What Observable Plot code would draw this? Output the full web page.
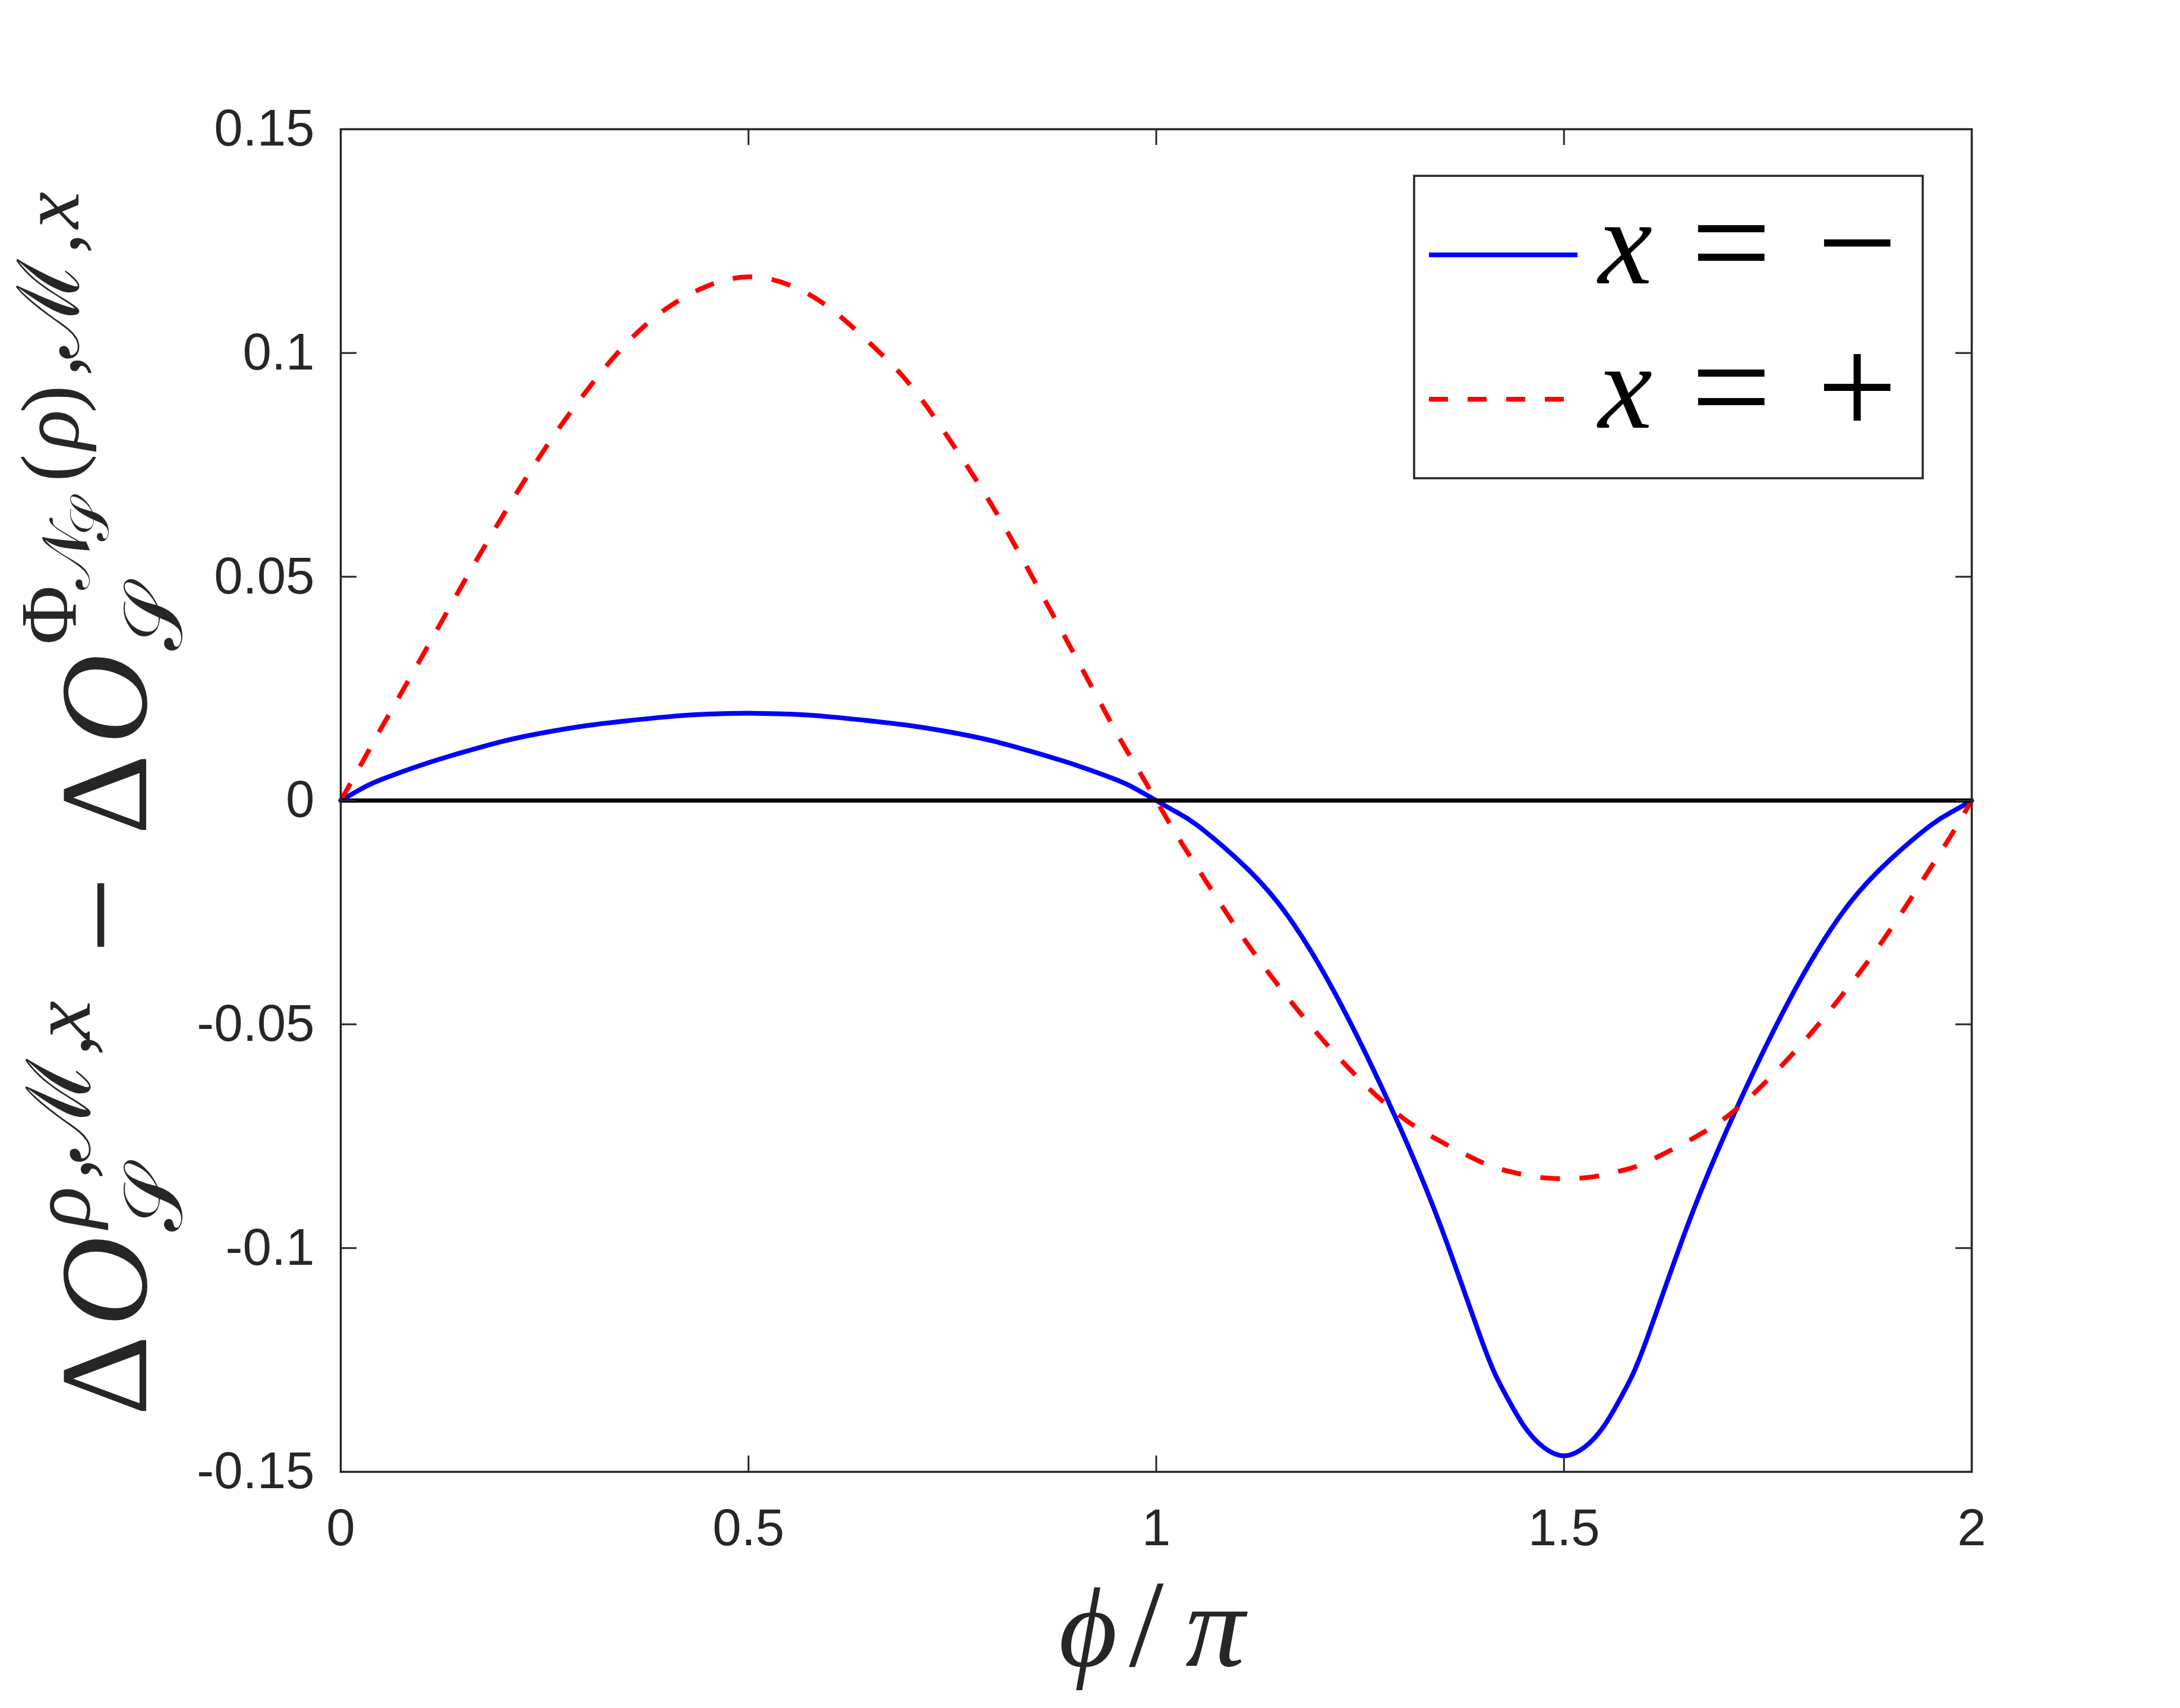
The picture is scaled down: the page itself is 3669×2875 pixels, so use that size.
<!DOCTYPE html>
<html>
<head>
<meta charset="utf-8">
<script src="https://cdn.jsdelivr.net/npm/d3@7"></script>
<script src="https://cdn.jsdelivr.net/npm/@observablehq/plot@0.6"></script>
<style>
html,body{margin:0;padding:0;background:#fff;overflow:hidden}
svg{display:block}
</style>
</head>
<body>
<div id="chart"></div>
<script>
// ---- data ----
const phi = [0,0.025,0.05,0.1,0.15,0.2,0.25,0.3,0.35,0.4,0.45,0.5,0.55,0.6,0.65,0.7,0.75,0.8,0.85,0.9,0.95,0.975,
             1,1.025,1.05,1.1,1.15,1.2,1.25,1.3,1.35,1.4,1.425,1.45,1.475,1.5,1.525,1.55,1.575,1.6,1.65,1.7,1.75,1.8,1.85,1.9,1.95,1.975,2];
const xMinus = [0,0.0026,0.0047,0.0080,0.0108,0.0133,0.0152,0.0167,0.0178,0.0187,0.0193,0.0195,0.0193,0.0187,0.0178,0.0167,0.0152,0.0133,0.0108,0.0080,0.0047,0.0026,
             0,-0.0026,-0.0055,-0.0132,-0.0230,-0.0368,-0.0540,-0.0735,-0.0957,-0.1211,-0.1316,-0.1395,-0.1445,-0.1464,-0.1445,-0.1395,-0.1316,-0.1211,-0.0957,-0.0735,-0.0540,-0.0368,-0.0230,-0.0132,-0.0055,-0.0026,0];
const xPlus = [0,0.0081,0.0163,0.0323,0.0485,0.0640,0.0785,0.0912,0.1021,0.1100,0.1150,0.1170,0.1152,0.1100,0.1020,0.0925,0.0797,0.0655,0.0493,0.0325,0.0156,0.0078,
             0,-0.0077,-0.0149,-0.0289,-0.0414,-0.0526,-0.0624,-0.0706,-0.0763,-0.0809,-0.0825,-0.0836,-0.0843,-0.0845,-0.0843,-0.0836,-0.0825,-0.0809,-0.0763,-0.0706,-0.0624,-0.0526,-0.0414,-0.0289,-0.0149,-0.0077,0];
const xTicks = [0,0.5,1,1.5,2];
const xTickLabels = ["0","0.5","1","1.5","2"];
const yTicks = [-0.15,-0.1,-0.05,0,0.05,0.1,0.15];
const yTickLabels = ["-0.15","-0.1","-0.05","0","0.05","0.1","0.15"];
const legendSigns = ["\u2212","+"];

// ---- layout ----
const W = 3669, H = 2875;
const mL = 573, mR = 351, mT = 217, mB = 398;
const innerW = W - mL - mR, innerH = H - mT - mB;
const axisColor = "#262626";
const tickLen = 27;

const svg = Plot.plot({
  width: W, height: H,
  marginLeft: mL, marginRight: mR, marginTop: mT, marginBottom: mB,
  style: {fontFamily: "'Liberation Sans', Arial, Helvetica, sans-serif", color: axisColor, background: "#fff"},
  x: {domain: [0, 2]},
  y: {domain: [-0.15, 0.15]},
  marks: [
    Plot.line(phi, {x: d => d, y: (d, i) => xMinus[i], stroke: "#0000ff", strokeWidth: 8, curve: "natural"}),
    Plot.line(phi, {x: d => d, y: (d, i) => xPlus[i], stroke: "#ff0000", strokeWidth: 8, strokeDasharray: "33,33", strokeLinecap: "butt", curve: "natural"}),
    Plot.ruleY([0], {stroke: "#000", strokeWidth: 7}),
    Plot.frame({stroke: axisColor, strokeWidth: 3.5}),
    Plot.tickX(xTicks, {x: d => d, insetTop: innerH - tickLen, stroke: axisColor, strokeWidth: 3}),
    Plot.tickX(xTicks, {x: d => d, insetBottom: innerH - tickLen, stroke: axisColor, strokeWidth: 3}),
    Plot.tickY(yTicks, {y: d => d, insetRight: innerW - tickLen, stroke: axisColor, strokeWidth: 3}),
    Plot.tickY(yTicks, {y: d => d, insetLeft: innerW - tickLen, stroke: axisColor, strokeWidth: 3}),
    Plot.axisX({ticks: xTicks, tickFormat: d => xTickLabels[xTicks.indexOf(d)], tickSize: 0, tickPadding: 62, fontSize: 87, label: null, anchor: "bottom"}),
    Plot.axisY({ticks: yTicks, tickFormat: d => yTickLabels[yTicks.indexOf(d)], tickSize: 0, tickPadding: 44, fontSize: 87, label: null, anchor: "left"})
  ]
});
document.getElementById("chart").appendChild(svg);

const s = d3.select(svg);
const serif = "'Liberation Serif', 'DejaVu Serif', serif";

// ---- legend ----
const lg = s.append("g").attr("text-anchor", "start");
lg.append("rect").attr("x", 2380).attr("y", 296).attr("width", 856).attr("height", 509)
  .attr("fill", "#fff").attr("stroke", axisColor).attr("stroke-width", 3.5);
lg.append("line").attr("x1", 2405).attr("x2", 2655).attr("y1", 429).attr("y2", 429)
  .attr("stroke", "#0000ff").attr("stroke-width", 8);
lg.append("line").attr("x1", 2405).attr("x2", 2632).attr("y1", 672).attr("y2", 672)
  .attr("stroke", "#ff0000").attr("stroke-width", 8).attr("stroke-dasharray", "32,33");
[477, 720].forEach((by, k) => {
  const t = lg.append("text").attr("y", by).attr("fill", "#000").attr("font-family", serif);
  t.append("tspan").attr("x", 2690).attr("font-style", "italic").attr("font-size", 205).text("x");
  t.append("tspan").attr("x", 2846).attr("y", by + 12).attr("font-size", 240).text("=");
  t.append("tspan").attr("x", 3058).attr("y", by + 12).attr("font-size", 240).text(legendSigns[k]);
});

// ---- x label ----
const xl = s.append("text").attr("y", 2804).attr("fill", axisColor).attr("font-family", serif).attr("text-anchor", "start");
xl.append("tspan").attr("x", 1782).attr("font-style", "italic").attr("font-size", 190).text("\u03D5");
xl.append("tspan").attr("x", 1900).attr("font-size", 210).text("/");
xl.append("tspan").attr("x", 1995).attr("font-style", "italic").attr("font-size", 200).text("\u03C0");

// ---- y label (rotated) ----
const yl = s.append("text").attr("transform", "translate(246,2383) rotate(-90)")
  .attr("fill", axisColor).attr("font-family", serif).attr("text-anchor", "start");
const pieces = [
  ["\u0394", 0, 0, 210, false],
  ["O", 150, 0, 210, true],
  ["\uD835\uDCAE", 310, 60, 140, false],
  ["\u03C1", 316, -95, 145, true],
  [",", 398, -95, 145, false],
  ["\u2133", 428, -95, 150, false],
  [",", 606, -95, 145, false],
  ["x", 634, -95, 145, true],
  ["\u2212", 778, 0, 230, false],
  ["\u0394", 978, 0, 210, false],
  ["O", 1130, 0, 210, true],
  ["\uD835\uDCAE", 1288, 60, 140, false],
  ["\u03A6", 1298, -118, 136, false],
  ["\uD835\uDCA9", 1390, -96, 112, false],
  ["\uD835\uDCAE", 1472, -64, 92, false],
  ["(", 1572, -114, 140, false],
  ["\u03C1", 1626, -114, 140, true],
  [")", 1688, -114, 140, false],
  [",", 1750, -114, 140, false],
  ["\u2133", 1780, -114, 145, false],
  [",", 1956, -114, 140, false],
  ["x", 1998, -114, 140, true]
];
pieces.forEach(([ch, x, y, fs, it]) => {
  yl.append("tspan").attr("x", x).attr("y", y).attr("font-size", fs)
    .attr("font-style", it ? "italic" : "normal").text(ch);
});
</script>
</body>
</html>
